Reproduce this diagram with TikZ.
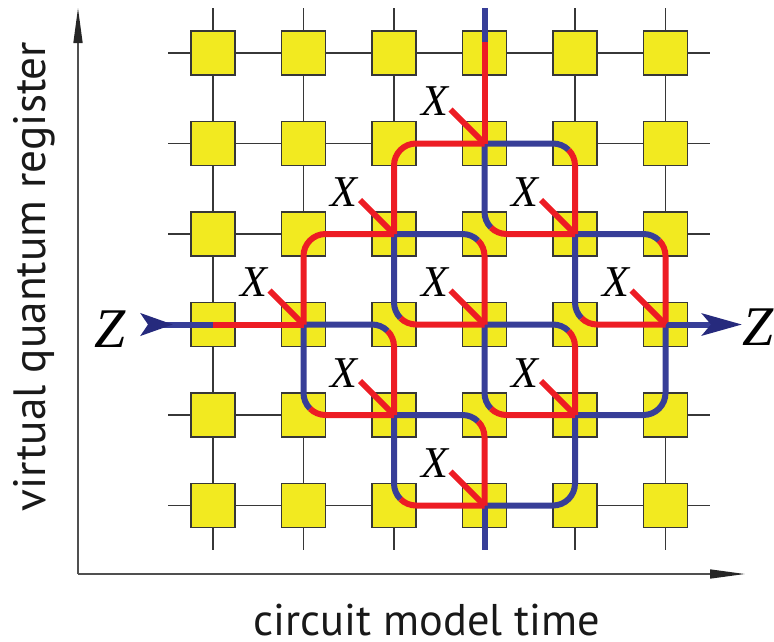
\documentclass[tikz,border=0pt]{standalone}
\usepackage{fontspec}
\newfontfamily\tms{Liberation Serif}
\newfontfamily\labfont{PT Sans}
\usetikzlibrary{arrows.meta,calc,backgrounds}
\definecolor{sqyellow}{RGB}{242,234,32}
\definecolor{pred}{RGB}{237,28,36}
\definecolor{pblue}{RGB}{55,62,152}
\definecolor{pnavy}{RGB}{38,42,125}
\definecolor{gline}{RGB}{55,55,55}
\definecolor{axcol}{RGB}{80,80,80}

\newcommand\blueturn[7]{\draw[bl] (#1.center) -- ($(#2.center)+(#4)$) arc[start angle=#5, end angle=#6, radius=22] coordinate (m-#2-#5);}
\newcommand\redturn[7]{\draw[rd] (m-#2-#5) arc[start angle=#6, end angle=#7, radius=22] -- (#3.center);}
\newcommand\turnlist[1]{%
 #1{s-4-2}{s-5-2}{s-5-3}{-22,0}{270}{315}{360}%
 #1{s-3-3}{s-4-3}{s-4-4}{-22,0}{270}{315}{360}%
 #1{s-5-3}{s-6-3}{s-6-4}{-22,0}{270}{315}{360}%
 #1{s-2-4}{s-3-4}{s-3-5}{-22,0}{270}{315}{360}%
 #1{s-4-4}{s-5-4}{s-5-5}{-22,0}{270}{315}{360}%
 #1{s-3-5}{s-4-5}{s-4-6}{-22,0}{270}{315}{360}%
 #1{s-4-2}{s-4-3}{s-5-3}{0,-22}{180}{135}{90}%
 #1{s-3-3}{s-3-4}{s-4-4}{0,-22}{180}{135}{90}%
 #1{s-5-3}{s-5-4}{s-6-4}{0,-22}{180}{135}{90}%
 #1{s-2-4}{s-2-5}{s-3-5}{0,-22}{180}{135}{90}%
 #1{s-4-4}{s-4-5}{s-5-5}{0,-22}{180}{135}{90}%
 #1{s-3-5}{s-3-6}{s-4-6}{0,-22}{180}{135}{90}%
}

\begin{document}
\begin{tikzpicture}[x=1pt,y=-1pt,
  sq/.style={draw=gline, fill=sqyellow, line width=1.3pt, minimum size=44pt, inner sep=0pt},
  gridline/.style={draw=gline, line width=1.2pt},
  bl/.style={draw=pblue, line width=6pt},
  rd/.style={draw=pred, line width=6pt},
  xlab/.style={font={\tms\itshape\fontsize{44}{44}\selectfont}, inner sep=0pt},
  zlab/.style={font={\tms\itshape\fontsize{56}{56}\selectfont}, inner sep=0pt},
  ylabst/.style={font={\labfont\fontsize{45.3}{45.3}\selectfont}, inner sep=0pt, text=black!90},
  xlabst/.style={font={\labfont\fontsize{44.4}{44.4}\selectfont}, inner sep=0pt, text=black!90},
  axis/.style={draw=axcol, line width=1.5pt},
  axtip/.style={-{Triangle[length=35pt,width=9pt,color=black!85]}}
]
\useasboundingbox (0,0) rectangle (774,641);

% squares
\foreach \i in {1,...,6}{
  \foreach \j in {1,...,6}{
    \node[sq] (s-\i-\j) at ({213+(\i-1)*90.5},{53+(\j-1)*90.5}) {};
  }
}
% grid lines (behind)
\begin{scope}[on background layer]
\foreach \k in {1,...,6}{
  \coordinate (hl-\k) at (168,{53+(\k-1)*90.5});
  \coordinate (hr-\k) at (710,{53+(\k-1)*90.5});
  \coordinate (vt-\k) at ({213+(\k-1)*90.5},8);
  \coordinate (vb-\k) at ({213+(\k-1)*90.5},550);
  \draw[gridline] (hl-\k) -- (hr-\k);
  \draw[gridline] (vt-\k) -- (vb-\k);
}
\end{scope}

% axes
\coordinate (o) at (78,574);
\coordinate (ay) at (78,8);
\coordinate (ax) at (745,574);
\draw[axis,axtip] (o) -- (ay);
\draw[axis,axtip] (o) -- (ax);

% ---- blue lines
\coordinate (tt) at (484.5,8);
\coordinate (tm) at (484.5,42);
\coordinate (bb) at (484.5,550);
\coordinate (zl) at (149,324.5);
\coordinate (zlt) at (173,324.5);
\coordinate (zr) at (742,324.5);
\draw[bl] (tt) -- (tm);
\draw[bl] (s-4-6.center) -- (bb);
\draw[bl] (zl) -- (s-1-4.center);
\turnlist\blueturn
\draw[bl] (s-6-4.center) -- ($(s-6-5.center)+(0,-22)$) arc[start angle=0,end angle=90,radius=22] -- (s-5-5.center);
\draw[bl] (s-5-5.center) -- ($(s-5-6.center)+(0,-22)$) arc[start angle=0,end angle=90,radius=22] -- (s-4-6.center);

% ---- red lines
\draw[rd] (tm) -- (s-4-2.center);
\draw[rd] (s-4-2.center) -- ($(s-3-2.center)+(22,0)$) arc[start angle=270,end angle=180,radius=22] -- (s-3-3.center);
\draw[rd] (s-3-3.center) -- ($(s-2-3.center)+(22,0)$) arc[start angle=270,end angle=180,radius=22] -- (s-2-4.center);
\draw[rd] (s-1-4.center) -- (s-2-4.center);
\turnlist\redturn

% ---- Z arrows
\draw[bl, -{Stealth[length=32pt,width=22pt,inset=7pt,color=pnavy]}] (zl) -- (zlt);
\draw[bl, -{Stealth[length=40pt,width=22pt,inset=9pt,color=pnavy]}] (s-6-4.center) -- (zr);
\node[zlab] (zL) at (110,329) {Z};
\node[zlab] (zR) at (758,327) {Z};

% ---- X markers
\foreach \v/\n in {s-4-2/1,s-3-3/2,s-5-3/3,s-2-4/4,s-4-4/5,s-6-4/6,s-3-5/7,s-5-5/8,s-4-6/9}{
  \draw[rd] ($(\v.center)+(-34,-34)$) -- (\v.center);
  \node[xlab] (x\n) at ($(\v.center)+(-50,-42)$) {X};
}

% ---- axis labels
\node[ylabst, rotate=90, anchor=base] (ylab) at (45.5,276.5) {virtual quantum register};
\node[xlabst, anchor=base] (xlab) at (427,635.5) {circuit model time};
\end{tikzpicture}
\end{document}
